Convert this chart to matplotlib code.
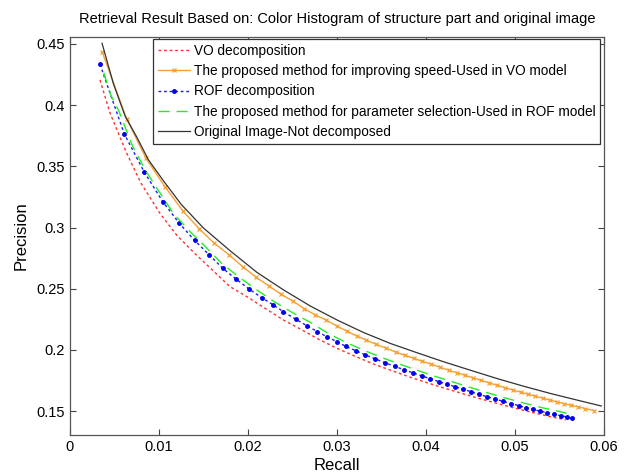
import matplotlib
matplotlib.use("Agg")
import matplotlib.pyplot as plt

plt.rcParams['font.family'] = ['Liberation Sans', 'DejaVu Sans']

# VO decomposition (red dotted)
vo_recall = [0.00337, 0.0045, 0.00637, 0.0080, 0.0101, 0.0120, 0.0140, 0.0160, 0.01798,
             0.0200, 0.0220, 0.0240, 0.0260, 0.0280, 0.02997, 0.0320, 0.0340, 0.0360,
             0.0380, 0.0400, 0.0420, 0.0440, 0.0460, 0.0480, 0.0500, 0.0520, 0.0540, 0.0557]
vo_prec = [0.4206, 0.3935, 0.3607, 0.3360, 0.3117, 0.2937, 0.2790, 0.2653, 0.2517,
           0.2430, 0.2336, 0.2244, 0.2166, 0.2085, 0.2014, 0.1950, 0.1888, 0.1835,
           0.1783, 0.1735, 0.1689, 0.1646, 0.1603, 0.1563, 0.1524, 0.1488, 0.1455, 0.1428]

# proposed method for improving speed, VO model (orange, x markers)
speed_recall = [0.00363, 0.00637, 0.00854, 0.01067, 0.01266, 0.01453, 0.01621, 0.0179,
                0.0194, 0.0209, 0.02236, 0.02371, 0.02502, 0.02633, 0.02756, 0.02876,
                0.02997, 0.0311, 0.0322, 0.0333, 0.0344, 0.0355, 0.0366, 0.0376, 0.0386,
                0.0396, 0.0406, 0.0416, 0.0426, 0.0435, 0.0444, 0.0453, 0.0462, 0.0471,
                0.0480, 0.0489, 0.0498, 0.0507, 0.0515, 0.0523, 0.0531, 0.0539, 0.0547,
                0.0555, 0.0563, 0.0571, 0.0579, 0.0589]
speed_prec = [0.4432, 0.3887, 0.3566, 0.3334, 0.3138, 0.2989, 0.2872, 0.2776,
              0.2681, 0.2594, 0.2523, 0.2455, 0.2400, 0.2337, 0.2286, 0.2245,
              0.2196, 0.2154, 0.2115, 0.2080, 0.2046, 0.2015, 0.1983, 0.1957, 0.1932,
              0.1907, 0.1883, 0.1858, 0.1833, 0.1813, 0.1792, 0.1772, 0.1751, 0.1731,
              0.1711, 0.1691, 0.1672, 0.1654, 0.1638, 0.1622, 0.1606, 0.1591, 0.1576,
              0.1561, 0.1548, 0.1535, 0.1521, 0.1504]

# ROF decomposition (blue dotted, dot markers)
rof_recall = [0.00337, 0.0061, 0.00835, 0.01042, 0.01228, 0.0140, 0.01566, 0.01716,
              0.01865, 0.02015, 0.02154, 0.02284, 0.02397, 0.02536, 0.02666, 0.02779,
              0.02884, 0.02997, 0.0310, 0.0321, 0.0332, 0.0343, 0.0354, 0.0365, 0.0375,
              0.0385, 0.0395, 0.0405, 0.0415, 0.0424, 0.0433, 0.0442, 0.0451, 0.0460,
              0.0469, 0.0478, 0.0487, 0.0496, 0.0504, 0.0512, 0.0520, 0.0528, 0.0536,
              0.0544, 0.0552, 0.0558, 0.0564]
rof_prec = [0.4334, 0.3765, 0.3452, 0.3212, 0.3035, 0.2895, 0.2776, 0.2667,
            0.2580, 0.2496, 0.2427, 0.2368, 0.2313, 0.2251, 0.2196, 0.2150,
            0.2109, 0.2068, 0.2029, 0.1994, 0.1959, 0.1927, 0.1895, 0.1866, 0.1839,
            0.1814, 0.1789, 0.1764, 0.1740, 0.1719, 0.1699, 0.1678, 0.1658, 0.1637,
            0.1617, 0.1598, 0.1579, 0.1561, 0.1545, 0.1529, 0.1515, 0.1500, 0.1487,
            0.1474, 0.1462, 0.1453, 0.1440]

# proposed method for parameter selection, ROF model (green dashed)
param_recall = [0.0038, 0.0046, 0.0055, 0.0070, 0.0085, 0.0100, 0.0116, 0.0133, 0.0150,
                0.0170, 0.0190, 0.0210, 0.0230, 0.0250, 0.0270, 0.0290, 0.0310, 0.0330,
                0.0350, 0.0370, 0.0390, 0.0410, 0.0430, 0.0450, 0.0470, 0.0490, 0.0510,
                0.0530, 0.0550, 0.0565]
param_prec = [0.4265, 0.4080, 0.3950, 0.3670, 0.3465, 0.3295, 0.3117, 0.2980, 0.2860,
              0.2710, 0.2595, 0.2490, 0.2392, 0.2305, 0.2225, 0.2136, 0.2061, 0.1998,
              0.1939, 0.1885, 0.1834, 0.1785, 0.1739, 0.1693, 0.1648, 0.1606, 0.1566,
              0.1529, 0.1497, 0.1469]

# original image, not decomposed (black)
orig_recall = [0.0036, 0.0049, 0.0062, 0.0075, 0.0088, 0.0105, 0.0125, 0.0150, 0.0180,
               0.0210, 0.0240, 0.0270, 0.0300, 0.0330, 0.0360, 0.0390, 0.0420, 0.0450,
               0.0480, 0.0510, 0.0540, 0.0570, 0.0597]
orig_prec = [0.4506, 0.4170, 0.3910, 0.3740, 0.3555, 0.3382, 0.3189, 0.2996, 0.2810,
             0.2634, 0.2490, 0.2359, 0.2245, 0.2142, 0.2053, 0.1977, 0.1903, 0.1834,
             0.1766, 0.1703, 0.1644, 0.1590, 0.1542]

labels = ['VO decomposition',
          'The proposed method for improving speed-Used in VO model',
          'ROF decomposition',
          'The proposed method for parameter selection-Used in ROF model',
          'Original Image-Not decomposed']

xticks = [0, 0.01, 0.02, 0.03, 0.04, 0.05, 0.06]
xtick_labels = ['0', '0.01', '0.02', '0.03', '0.04', '0.05', '0.06']
yticks = [0.15, 0.2, 0.25, 0.3, 0.35, 0.4, 0.45]
ytick_labels = ['0.15', '0.2', '0.25', '0.3', '0.35', '0.4', '0.45']

fig = plt.figure(figsize=(6.3, 4.75), dpi=100)
ax = fig.add_axes([0.1111, 0.0842, 0.8476, 0.8379])

ax.plot(vo_recall, vo_prec, color='#ff3030', linewidth=1.0, dashes=(2, 2), label=labels[0])
ax.plot(speed_recall, speed_prec, color='#f5a032', linewidth=1.0, marker='x',
        markersize=3.5, markeredgewidth=0.9, label=labels[1])
ax.plot(rof_recall, rof_prec, color='#1a1aff', linewidth=1.0, dashes=(2, 2), marker='.',
        markersize=5, markerfacecolor='#0000ee', markeredgecolor='#0000ee', label=labels[2])
ax.plot(param_recall, param_prec, color='#22ee22', linewidth=1.0, dashes=(8, 5), label=labels[3])
ax.plot(orig_recall, orig_prec, color='#333333', linewidth=0.9, label=labels[4])

ax.set_xlim(0, 0.06)
ax.set_ylim(0.1305, 0.4557)
ax.set_xticks(xticks)
ax.set_xticklabels(xtick_labels, fontsize=10.5)
ax.set_yticks(yticks)
ax.set_yticklabels(ytick_labels, fontsize=10.5)
ax.tick_params(direction='in', top=True, right=True, length=4, width=0.8, color='#444444')
for sp in ax.spines.values():
    sp.set_color('#555555')
    sp.set_linewidth(0.9)

ax.set_xlabel('Recall', fontsize=12, labelpad=3)
ax.set_ylabel('Precision', fontsize=12, labelpad=6)
ax.set_title('Retrieval Result Based on: Color Histogram of structure part and original image',
             fontsize=10.5, pad=10)

leg = ax.legend(loc='upper right', bbox_to_anchor=(0.9925, 0.995),
                prop={'size': 9.8}, fancybox=False, framealpha=1,
                edgecolor='#333333', handlelength=2.35, handletextpad=0.3,
                labelspacing=0.46, borderpad=0.35, borderaxespad=0)
leg.get_frame().set_linewidth(0.9)

fig.savefig('out.png', dpi=100, facecolor='white')
